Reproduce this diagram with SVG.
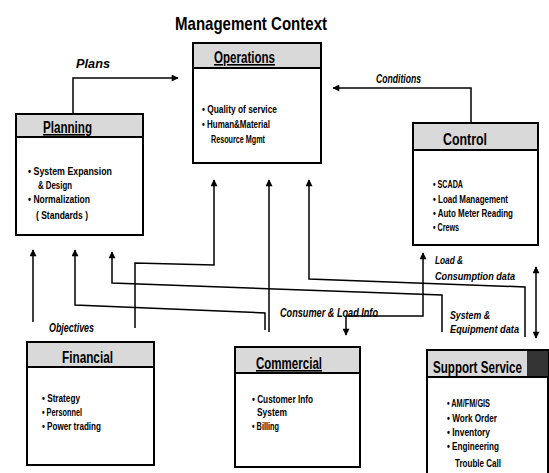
<svg xmlns="http://www.w3.org/2000/svg" width="549" height="473" viewBox="0 0 549 473">
<style>
.box{fill:#fff;stroke:#000;stroke-width:2}
.hdr{fill:#d9d9d9;stroke:#000;stroke-width:2}
.ht{font-family:"Liberation Sans",Arial,sans-serif;font-weight:bold;font-size:16px;fill:#000}
.u{text-decoration:underline}
.bt{font-family:"Liberation Sans",Arial,sans-serif;font-weight:bold;font-size:11.5px;fill:#000}
.lbl{font-family:"Liberation Sans",Arial,sans-serif;font-weight:bold;font-style:italic;font-size:12px;fill:#000}
.sm{font-size:11px}
.title{font-family:"Liberation Sans",Arial,sans-serif;font-weight:bold;font-size:19px;fill:#000}
.c{fill:none;stroke:#000;stroke-width:1.5}
</style>
<defs>
<marker id="ah" viewBox="0 0 10 10" refX="9" refY="5" markerWidth="8" markerHeight="7" orient="auto" markerUnits="userSpaceOnUse">
<path d="M0,0 L10,5 L0,10 z" fill="#000"/>
</marker>
</defs>
<rect width="549" height="473" fill="#fff"/>
<text class="title" x="175" y="30" textLength="152" lengthAdjust="spacingAndGlyphs">Management Context</text>

<g id="operations">
<rect class="box" x="193" y="43" width="128" height="120"/>
<rect class="hdr" x="193" y="43" width="128" height="25"/>
<text class="ht u" x="214" y="63" textLength="61" lengthAdjust="spacingAndGlyphs">Operations</text>
<text class="bt" x="202" y="113" textLength="75" lengthAdjust="spacingAndGlyphs">• Quality of service</text>
<text class="bt" x="202" y="128" textLength="68" lengthAdjust="spacingAndGlyphs">• Human&amp;Material</text>
<text class="bt" x="211" y="143" textLength="54" lengthAdjust="spacingAndGlyphs">Resource Mgmt</text>
</g>

<g id="planning">
<rect class="box" x="16" y="114" width="127" height="121"/>
<rect class="hdr" x="16" y="114" width="127" height="23"/>
<text class="ht u" x="43" y="133" textLength="49" lengthAdjust="spacingAndGlyphs">Planning</text>
<text class="bt" x="28" y="175" textLength="84" lengthAdjust="spacingAndGlyphs">• System Expansion</text>
<text class="bt" x="38" y="189" textLength="34" lengthAdjust="spacingAndGlyphs">&amp; Design</text>
<text class="bt" x="28" y="203" textLength="62" lengthAdjust="spacingAndGlyphs">• Normalization</text>
<text class="bt" x="36" y="219" textLength="52" lengthAdjust="spacingAndGlyphs">( Standards )</text>
</g>

<g id="control">
<rect class="box" x="413" y="123" width="125" height="122"/>
<rect class="hdr" x="413" y="123" width="125" height="27"/>
<text class="ht" x="443" y="145" textLength="44" lengthAdjust="spacingAndGlyphs">Control</text>
<text class="bt" x="433" y="188" textLength="30" lengthAdjust="spacingAndGlyphs">• SCADA</text>
<text class="bt" x="433" y="203" textLength="75" lengthAdjust="spacingAndGlyphs">• Load Management</text>
<text class="bt" x="433" y="217" textLength="80" lengthAdjust="spacingAndGlyphs">• Auto Meter Reading</text>
<text class="bt" x="433" y="231" textLength="26" lengthAdjust="spacingAndGlyphs">• Crews</text>
</g>

<g id="financial">
<rect class="box" x="27" y="342" width="127" height="123"/>
<rect class="hdr" x="27" y="342" width="127" height="25"/>
<text class="ht" x="62" y="363" textLength="51" lengthAdjust="spacingAndGlyphs">Financial</text>
<text class="bt" x="42" y="402" textLength="38" lengthAdjust="spacingAndGlyphs">• Strategy</text>
<text class="bt" x="42" y="416" textLength="40" lengthAdjust="spacingAndGlyphs">• Personnel</text>
<text class="bt" x="42" y="430" textLength="59" lengthAdjust="spacingAndGlyphs">• Power trading</text>
</g>

<g id="commercial">
<rect class="box" x="235" y="347" width="125" height="120"/>
<rect class="hdr" x="235" y="347" width="125" height="26"/>
<text class="ht u" x="256" y="369" textLength="66" lengthAdjust="spacingAndGlyphs">Commercial</text>
<text class="bt" x="252" y="403" textLength="61" lengthAdjust="spacingAndGlyphs">• Customer Info</text>
<text class="bt" x="257" y="416" textLength="30" lengthAdjust="spacingAndGlyphs">System</text>
<text class="bt" x="252" y="430" textLength="27" lengthAdjust="spacingAndGlyphs">• Billing</text>
</g>

<g id="support-service">
<rect class="box" x="427" y="350" width="121" height="130"/>
<rect class="hdr" x="427" y="350" width="121" height="27"/>
<rect x="527" y="351" width="21" height="25" fill="#333"/>
<text class="ht" x="433" y="373" style="font-size:17px" textLength="89" lengthAdjust="spacingAndGlyphs">Support Service</text>
<text class="bt" x="447" y="407" textLength="43" lengthAdjust="spacingAndGlyphs">• AM/FM/GIS</text>
<text class="bt" x="447" y="422" textLength="50" lengthAdjust="spacingAndGlyphs">• Work Order</text>
<text class="bt" x="447" y="436" textLength="43" lengthAdjust="spacingAndGlyphs">• Inventory</text>
<text class="bt" x="447" y="450" textLength="52" lengthAdjust="spacingAndGlyphs">• Engineering</text>
<text class="bt" x="455" y="467" textLength="46" lengthAdjust="spacingAndGlyphs">Trouble Call</text>
</g>

<g id="connectors">
<polyline class="c" points="73,113 73,78 178,78" marker-end="url(#ah)"/>
<polyline class="c" points="471,122 471,88 333,88" marker-end="url(#ah)"/>
<polyline class="c" points="135,328 135,263 214,265 214,180" marker-end="url(#ah)"/>
<polyline class="c" points="269,332 269,180" marker-end="url(#ah)"/>
<polyline class="c" points="525,337 525,287 309,279 309,180" marker-end="url(#ah)"/>
<polyline class="c" points="33,322 33,250" marker-end="url(#ah)"/>
<polyline class="c" points="265,330 265,313 75,305 75,250" marker-end="url(#ah)"/>
<polyline class="c" points="442,332 442,295 112,283 112,252" marker-end="url(#ah)"/>
<polyline class="c" points="346,316 346,335" marker-end="url(#ah)"/>
<polyline class="c" points="346,316 423,316 423,253" marker-end="url(#ah)"/>
<line class="c" x1="536" y1="302" x2="536" y2="267" marker-end="url(#ah)"/>
<line class="c" x1="536" y1="302" x2="536" y2="338" marker-end="url(#ah)"/>
<text class="lbl" x="76" y="68" textLength="34" lengthAdjust="spacingAndGlyphs">Plans</text>
<text class="lbl" x="376" y="83" textLength="45" lengthAdjust="spacingAndGlyphs">Conditions</text>
<text class="lbl" x="49" y="332" textLength="45" lengthAdjust="spacingAndGlyphs">Objectives</text>
<text class="lbl" x="280" y="317" textLength="98" lengthAdjust="spacingAndGlyphs">Consumer &amp; Load Info</text>
<text class="lbl sm" x="435" y="264" textLength="28" lengthAdjust="spacingAndGlyphs">Load &amp;</text>
<text class="lbl sm" x="435" y="280" textLength="80" lengthAdjust="spacingAndGlyphs">Consumption data</text>
<text class="lbl sm" x="450" y="319" textLength="40" lengthAdjust="spacingAndGlyphs">System &amp;</text>
<text class="lbl sm" x="450" y="333" textLength="69" lengthAdjust="spacingAndGlyphs">Equipment data</text>
</g>
</svg>
